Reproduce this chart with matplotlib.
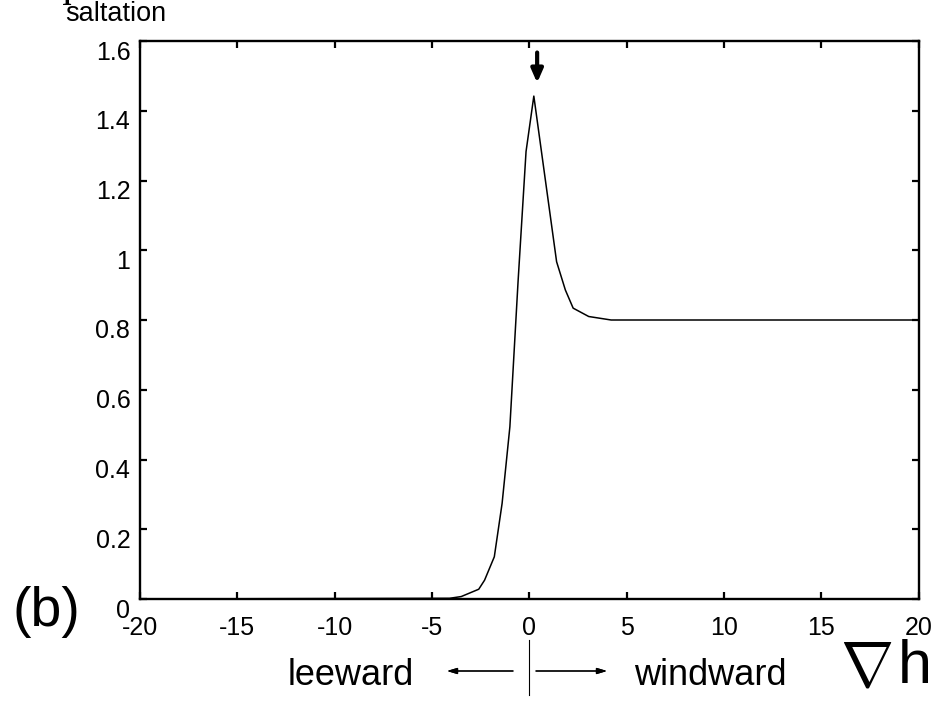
import matplotlib
matplotlib.use('Agg')
import matplotlib.pyplot as plt
from matplotlib.transforms import ScaledTranslation
from matplotlib.lines import Line2D

# profile
gradient_h = [-20, -4.1, -3.5, -2.6, -2.3, -1.8, -1.4, -1.0, -0.58, -0.17, 0.23,
              1.4, 1.85, 2.25, 3.05, 4.2, 20]
saltation = [0.0, 0.002, 0.007, 0.028, 0.054, 0.121, 0.274, 0.494, 0.91, 1.283, 1.442,
             0.967, 0.886, 0.834, 0.81, 0.80, 0.80]
x_ticks = [-20, -15, -10, -5, 0, 5, 10, 15, 20]
y_ticks = [0, 0.2, 0.4, 0.6, 0.8, 1.0, 1.2, 1.4, 1.6]
y_tick_labels = ['0', '0.2', '0.4', '0.6', '0.8', '1', '1.2', '1.4', '1.6']
peak_x = 0.4

plt.rcParams['font.family'] = ['Liberation Sans', 'DejaVu Sans']
plt.rcParams['mathtext.fontset'] = 'cm'

W, H = 942, 701
fig = plt.figure(figsize=(W / 100, H / 100), dpi=100)
ax = fig.add_axes([140 / W, 1 - 599 / H, 778.7 / W, 558 / H])

ax.plot(gradient_h, saltation, color='black', lw=1.1)
ax.set_xlim(-20, 20)
ax.set_ylim(0, 1.6)
ax.set_xticks(x_ticks)
ax.set_xticklabels([str(t) for t in x_ticks])
ax.set_yticks(y_ticks)
ax.set_yticklabels(y_tick_labels)
ax.tick_params(direction='in', length=5, width=1.6, top=True, right=True,
               labelsize=18, colors='black')
ax.tick_params(axis='x', pad=12.5)
ax.tick_params(axis='y', pad=7)
for s in ax.spines.values():
    s.set_linewidth(1.7)

# y labels sit a little below their ticks in the original
off = ScaledTranslation(0, -0.09, fig.dpi_scale_trans)
for lab in ax.get_yticklabels():
    lab.set_transform(lab.get_transform() + off)

# arrow marking the peak
ax.annotate('', xy=(peak_x, 1.48), xytext=(peak_x, 1.567),
            arrowprops=dict(arrowstyle='-|>,head_width=0.35,head_length=0.8',
                            color='black', lw=3, shrinkA=0, shrinkB=0))

# axis label at the top (partly cut off)
fig.text(50 / W, 1 + 4 / H, 'q', fontsize=30, family='Liberation Serif',
         ha='left', va='baseline')
fig.text(65 / W, 1 - 21 / H, 'saltation', fontsize=19.5, ha='left', va='baseline')

fig.text(12 / W, 1 - 626 / H, '(b)', fontsize=40, ha='left', va='baseline')

# leeward / windward annotation below the axis
fig.text(414 / W, 1 - 685 / H, 'leeward', fontsize=26, ha='right', va='baseline')
fig.text(634 / W, 1 - 685 / H, 'windward', fontsize=26, ha='left', va='baseline')
fig.add_artist(Line2D([528.5 / W, 528.5 / W], [1 - 640 / H, 1 - 695 / H],
                      color='black', lw=0.8))
arrow = dict(arrowstyle='-|>,head_width=0.18,head_length=0.6', color='black',
             lw=0.9, shrinkA=0, shrinkB=0)
fig.add_artist(plt.annotate('', xy=(447 / W, 1 - 671 / H), xytext=(513 / W, 1 - 671 / H),
                            xycoords='figure fraction', arrowprops=arrow))
fig.add_artist(plt.annotate('', xy=(607 / W, 1 - 671 / H), xytext=(536 / W, 1 - 671 / H),
                            xycoords='figure fraction', arrowprops=arrow))
fig.text(866 / W, 1 - 668 / H, r'$\nabla$', fontsize=46, ha='center', va='center')
fig.text(898 / W, 1 - 683 / H, 'h', fontsize=44, ha='left', va='baseline')

fig.savefig('out.png', dpi=100)
